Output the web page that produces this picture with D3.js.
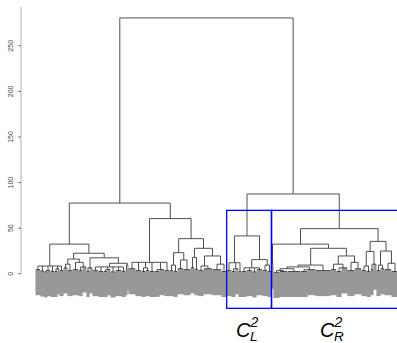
<!DOCTYPE html>
<html><head><meta charset="utf-8">
<script src="https://cdn.jsdelivr.net/npm/d3@7"></script>
<style>body{margin:0;background:#fff}</style>
</head><body>
<svg id="chart" width="397" height="343"></svg>
<script>
// Height axis
const tickValues = [0, 50, 100, 150, 200, 250];
const axisTop = 292;
const hang = 28;            // leaves hang this far below their parent merge

// Leaf-level groups: [mergeHeight, ...children]; a bare number is that many leaves
const A    = [8, [4,5], [2.5,4], [3,[1.5,3],3], [2,4], [5,[2,3],2], [3,4]];
const B1a  = [10, [6,4], [3,5]];
const B1b  = [12, [4,6], [7,[3,4],4]];
const B2a  = [6, [2,3], 3];
const B2b1 = [7, [3,6], [2,5], [4,[2,4],3], [1.5,5], [3,6], [2,4]];
const B2b2 = [9, [4,2], 1];
const C1   = [12, [5,7], [3,6], [6,[2,4],[3,4]], [2,5], [4,[2,5],5], [3,5]];
const D1   = [9, [3,4], [2,4]];
const D2   = [14.6, [5,6], [4,7]];
const E1   = [17.5, [6,4], [4,4]];
const E2a  = [8, [3,5], [5,9]];
const E2b  = [10, [4,9], [2,5]];
const F1   = [11.6, [3,5], [5,[2,4],3], [2,3]];
const F2a  = [6, [2,5], [3,6], [1.5,4], [4,6]];
const F2b  = [9, [3,5], [2,4]];
const G1   = [11, 2];
const H1   = [9, [7, [5, [3,[1,6],[2,8]], [2,13]], [4,[2,7],8]], [3,15]];
const H2a  = [10, [4,6], [6,[2,5],6]];
const H2b  = [12, [3,7], [5,7]];
const I1a  = [8, [3,5], [2,4]];
const I1b  = [10, [4,3], 3];
const I2a  = [9, [3,4], [5,4]];
const I2b  = [11, [4,7], [2,7]];

// Upper merges
const L1 = [32, A, [22, [15.6, B1a, B1b], [17, B2a, [11, B2b1, B2b2]]]];
const L2 = [60, C1, [38, [22.6, D1, D2], [27.4, E1, [19, E2a, E2b]]]];
const F  = [41, F1, [15, F2a, F2b]];
const Rr = [49, [32, G1, [27.4, H1, [19, H2a, H2b]]], [35, [24, I1a, I1b], [24.4, I2a, I2b]]];
const tree = [280, [77, L1, L2], [87, F, Rr]];

// Highlighted clusters and their labels
const clusters = [F, Rr];
const boxTop = 69, boxBottom = -38.4;
const clusterLabels = [{sub: "L", x: 236}, {sub: "R", x: 320}];

const specMap = new Map();
function toNode(spec) {
  const [h, ...rest] = spec;
  const kids = [];
  rest.forEach(c => {
    if (Array.isArray(c)) kids.push(toNode(c));
    else for (let i = 0; i < c; i++) kids.push({leaf: true});
  });
  const node = {h, kids};
  specMap.set(spec, node);
  return node;
}

const root = d3.hierarchy(toNode(tree), d => d.kids);
const leaves = root.leaves();
leaves.forEach((l, i) => l.xi = i);
root.eachAfter(n => {
  if (n.children) {
    n.xi = (n.children[0].xi + n.children[n.children.length - 1].xi) / 2;
    n.hv = n.data.h;
  } else {
    n.hv = n.parent.data.h - hang;
  }
});

const x = d3.scaleLinear().domain([0, leaves.length - 1]).range([36, 398]);
const y = d3.scaleLinear().domain([0, 250]).range([273.3, 45.3]);

const svg = d3.select("#chart");
svg.append("rect").attr("width", 397).attr("height", 343).attr("fill", "#fff");

// y axis
const ax = svg.append("g").attr("transform", "translate(21,0)");
ax.append("line").attr("x1", 0).attr("x2", 0).attr("y1", y(0)).attr("y2", y(axisTop))
  .attr("stroke", "#c4c4c4").attr("stroke-width", 1.4);
ax.call(d3.axisLeft(y).tickValues(tickValues).tickSize(3).tickSizeOuter(0))
  .call(g => g.select(".domain").remove())
  .call(g => g.selectAll(".tick line").attr("stroke", "#777"))
  .call(g => g.selectAll(".tick text")
    .attr("transform", "rotate(-90)")
    .attr("x", 0).attr("y", -8).attr("dy", 0)
    .attr("text-anchor", "middle")
    .attr("font-family", "Liberation Sans, Arial, sans-serif")
    .attr("font-size", 7).attr("fill", "#444"));

// dendrogram: one bar per merge, one stem per child
const internal = root.descendants().filter(d => d.children);
const gLinks = svg.append("g").attr("fill", "none");
gLinks.selectAll("line.h").data(internal).join("line").attr("class", "h")
  .attr("x1", d => x(d.children[0].xi))
  .attr("x2", d => x(d.children[d.children.length - 1].xi))
  .attr("y1", d => y(d.hv)).attr("y2", d => y(d.hv))
  .attr("stroke", "#3c3c3c").attr("stroke-width", 0.9);

const edges = root.descendants().filter(d => d.parent);
gLinks.selectAll("line.v").data(edges).join("line").attr("class", "v")
  .attr("x1", d => x(d.xi)).attr("x2", d => x(d.xi))
  .attr("y1", d => y(d.parent.hv)).attr("y2", d => y(d.hv))
  .attr("stroke", d => d.children ? "#3c3c3c" : "#3a3a3a")
  .attr("stroke-width", d => d.children ? 0.9 : 0.62);

// cluster rectangles
const rectData = clusters.map(s => {
  const node = root.descendants().find(d => d.data === specMap.get(s));
  const lv = node.leaves();
  return {x0: lv[0].xi - 0.34, x1: lv[lv.length - 1].xi + 0.33};
});
svg.append("g").selectAll("rect").data(rectData).join("rect")
  .attr("x", d => x(d.x0)).attr("width", d => x(d.x1) - x(d.x0))
  .attr("y", y(boxTop)).attr("height", y(boxBottom) - y(boxTop))
  .attr("fill", "none").attr("stroke", "#0000ff").attr("stroke-width", 1.3);

// cluster labels
const lab = svg.append("g").attr("font-family", "Liberation Sans, Arial, sans-serif")
  .attr("font-style", "italic").attr("fill", "#000");
clusterLabels.forEach(l => {
  lab.append("text").attr("x", l.x).attr("y", 336.6).attr("font-size", 20).text("C");
  lab.append("text").attr("x", l.x + 14.5).attr("y", 327.3).attr("font-size", 14).text("2");
  lab.append("text").attr("x", l.x + 14).attr("y", 340.8).attr("font-size", 13.5).text(l.sub);
});
</script>
</body></html>
